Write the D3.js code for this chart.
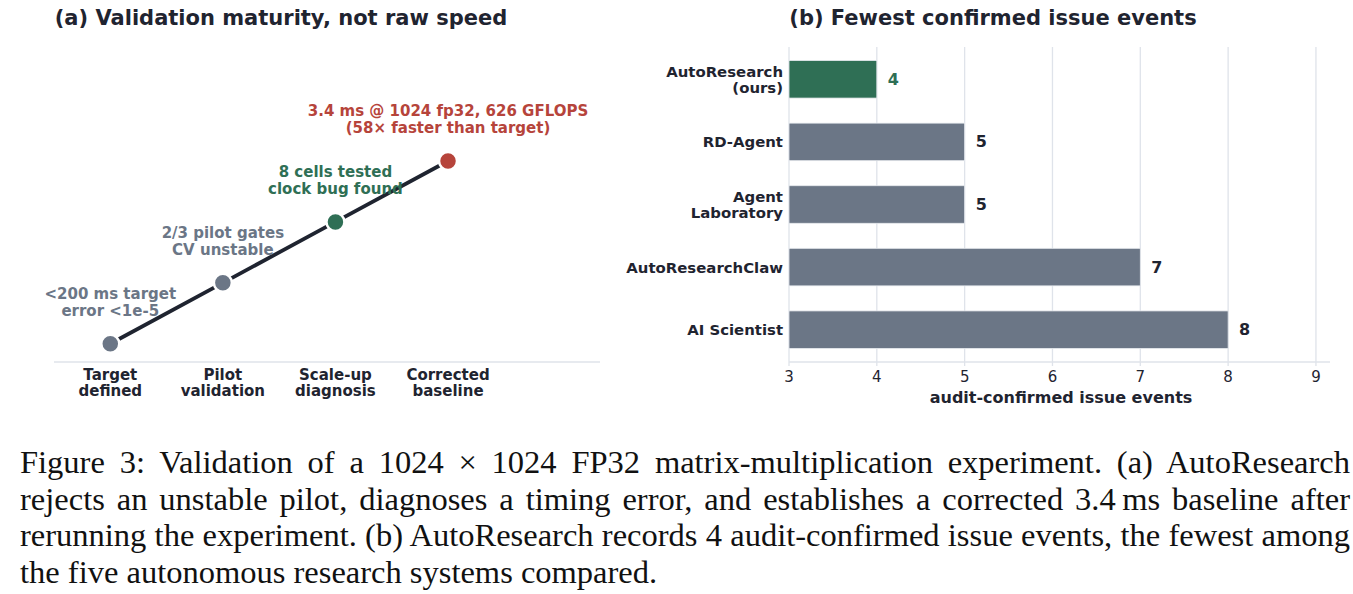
<!DOCTYPE html>
<html><head><meta charset="utf-8">
<script src="https://cdn.jsdelivr.net/npm/d3@7"></script>
<style>
html,body{margin:0;padding:0;background:#fff;}
svg{display:block;}
</style></head>
<body>
<svg id="c" width="1353" height="594"></svg>
<script>
// ---------- data ----------
const stages = [["Target","defined"],["Pilot","validation"],["Scale-up","diagnosis"],["Corrected","baseline"]];
const stageLevel = [0, 1, 2, 3];
const stageNotes = [
  ["<200 ms target","error <1e-5"],
  ["2/3 pilot gates","CV unstable"],
  ["8 cells tested","clock bug found"],
  ["3.4 ms @ 1024 fp32, 626 GFLOPS","(58\u00d7 faster than target)"]
];
const stageKind = ["plain","plain","diag","final"];

const systems = [["AutoResearch","(ours)"],["RD-Agent"],["Agent","Laboratory"],["AutoResearchClaw"],["AI Scientist"]];
const issueEvents = [4, 5, 5, 7, 8];
const systemKind = ["ours","other","other","other","other"];
const xTicks = [3,4,5,6,7,8,9];

const captionLines = [
  "Figure 3: Validation of a 1024 \u00d7 1024 FP32 matrix-multiplication experiment. (a) AutoResearch",
  "rejects an unstable pilot, diagnoses a timing error, and establishes a corrected 3.4\u2009ms baseline after",
  "rerunning the experiment. (b) AutoResearch records 4 audit-confirmed issue events, the fewest among",
  "the five autonomous research systems compared."
];

// ---------- style ----------
const DARK = "#1f2430", GRAY = "#6b7686", GREEN = "#2f6f55", RED = "#b6443b", GRID = "#dfe3ea";
const colorOf = {plain: GRAY, diag: GREEN, final: RED, ours: GREEN, other: GRAY};
const FONT = "'DejaVu Sans', sans-serif";

const svg = d3.select("#c");

// ---------- panel (a) ----------
const ga = svg.append("g");
const xa = d3.scaleLinear().domain([-0.5, 4.35]).range([54, 600]);
const ya = d3.scaleLinear().domain([-0.3, 3]).range([362, 161]);

ga.append("text").attr("x", 281).attr("y", 25).attr("text-anchor","middle")
  .attr("font-family", FONT).attr("font-weight","bold").attr("font-size", 21).attr("fill", DARK)
  .text("(a) Validation maturity, not raw speed");

ga.append("line").attr("x1", xa(-0.5)).attr("x2", xa(4.35)).attr("y1", ya(-0.3)).attr("y2", ya(-0.3))
  .attr("stroke", GRID).attr("stroke-width", 1.5);

const pts = stageLevel.map((v,i)=>({i, v}));
ga.append("path").datum(pts)
  .attr("d", d3.line().x(d=>xa(d.i)).y(d=>ya(d.v)))
  .attr("fill","none").attr("stroke", DARK).attr("stroke-width", 3.8);

// annotations
stageNotes.forEach((lines, i) => {
  const t = ga.append("text").attr("text-anchor","middle")
    .attr("font-family", FONT).attr("font-weight","bold").attr("font-size", 15)
    .attr("fill", colorOf[stageKind[i]]);
  lines.forEach((s, k) => {
    t.append("tspan").attr("x", xa(i)).attr("y", ya(stageLevel[i]) - 45 + k*17).text(s);
  });
});

ga.selectAll("circle.m").data(pts).join("circle")
  .attr("cx", d=>xa(d.i)).attr("cy", d=>ya(d.v)).attr("r", 9)
  .attr("fill", d=>colorOf[stageKind[d.i]]).attr("stroke","#fff").attr("stroke-width", 2.5);

stages.forEach((lines, i) => {
  const t = ga.append("text").attr("text-anchor","middle")
    .attr("font-family", FONT).attr("font-weight","bold").attr("font-size", 15).attr("fill", DARK);
  lines.forEach((s,k)=>{
    t.append("tspan").attr("x", xa(i)).attr("y", 380 + k*16).text(s);
  });
});

// ---------- panel (b) ----------
const gb = svg.append("g");
const xb = d3.scaleLinear().domain([3, 9.16]).range([789, 1330]);
const yb = d3.scaleBand().domain(d3.range(systems.length)).range([48, 361])
  .paddingInner(0.4).paddingOuter(0.2);

gb.append("text").attr("x", 993).attr("y", 25).attr("text-anchor","middle")
  .attr("font-family", FONT).attr("font-weight","bold").attr("font-size", 21).attr("fill", DARK)
  .text("(b) Fewest confirmed issue events");

gb.selectAll("line.grid").data(xTicks).join("line")
  .attr("x1", d=>xb(d)).attr("x2", d=>xb(d)).attr("y1", 47).attr("y2", 366)
  .attr("stroke", GRID).attr("stroke-width", 1.3);

gb.selectAll("rect.bar").data(issueEvents).join("rect")
  .attr("x", xb(3)).attr("y", (d,i)=>yb(i))
  .attr("width", d=>xb(d)-xb(3)).attr("height", yb.bandwidth())
  .attr("fill", (d,i)=>colorOf[systemKind[i]])
  .attr("stroke", "#e8ebef").attr("stroke-width", 0.8);

gb.selectAll("text.val").data(issueEvents).join("text")
  .attr("x", d=>xb(d)+11).attr("y", (d,i)=>yb(i)+yb.bandwidth()/2+5.5)
  .attr("font-family", FONT).attr("font-weight","bold").attr("font-size", 16)
  .attr("fill", (d,i)=> systemKind[i]==="ours" ? GREEN : DARK)
  .text(d=>d);

systems.forEach((lines, i) => {
  const t = gb.append("text").attr("text-anchor","end")
    .attr("font-family", FONT).attr("font-weight","bold").attr("font-size", 14.9).attr("fill", DARK);
  const cy = yb(i) + yb.bandwidth()/2;
  const n = lines.length;
  lines.forEach((s,k)=>{
    t.append("tspan").attr("x", 783).attr("y", cy + 5.5 + (k - (n-1)/2)*16.5).text(s);
  });
});

gb.append("line").attr("x1", xb(3)).attr("x2", xb(9.16)).attr("y1", 362).attr("y2", 362)
  .attr("stroke", GRID).attr("stroke-width", 1.5);

gb.selectAll("text.tick").data(xTicks).join("text")
  .attr("x", d=>xb(d)).attr("y", 382).attr("text-anchor","middle")
  .attr("font-family", FONT).attr("font-size", 15).attr("fill", DARK).text(d=>d);

gb.append("text").attr("x", 1061).attr("y", 403).attr("text-anchor","middle")
  .attr("font-family", FONT).attr("font-weight","bold").attr("font-size", 16).attr("fill", DARK)
  .text("audit-confirmed issue events");

// ---------- caption ----------
const cap = svg.append("g");
const capLeft = 20, capRight = 1350;
captionLines.forEach((s, k) => {
  const t = cap.append("text").attr("x", capLeft).attr("y", 473 + k*36.7)
    .attr("font-family", "'Liberation Serif', 'Times New Roman', serif").attr("font-size", 32.5)
    .attr("fill", "#111").text(s);
  if (k < captionLines.length - 1) {
    const w = t.node().getComputedTextLength();
    const spaces = (s.match(/ /g) || []).length;
    const extra = (capRight - capLeft - w) / spaces;
    t.attr("word-spacing", extra);
  }
});
</script>
</body></html>
